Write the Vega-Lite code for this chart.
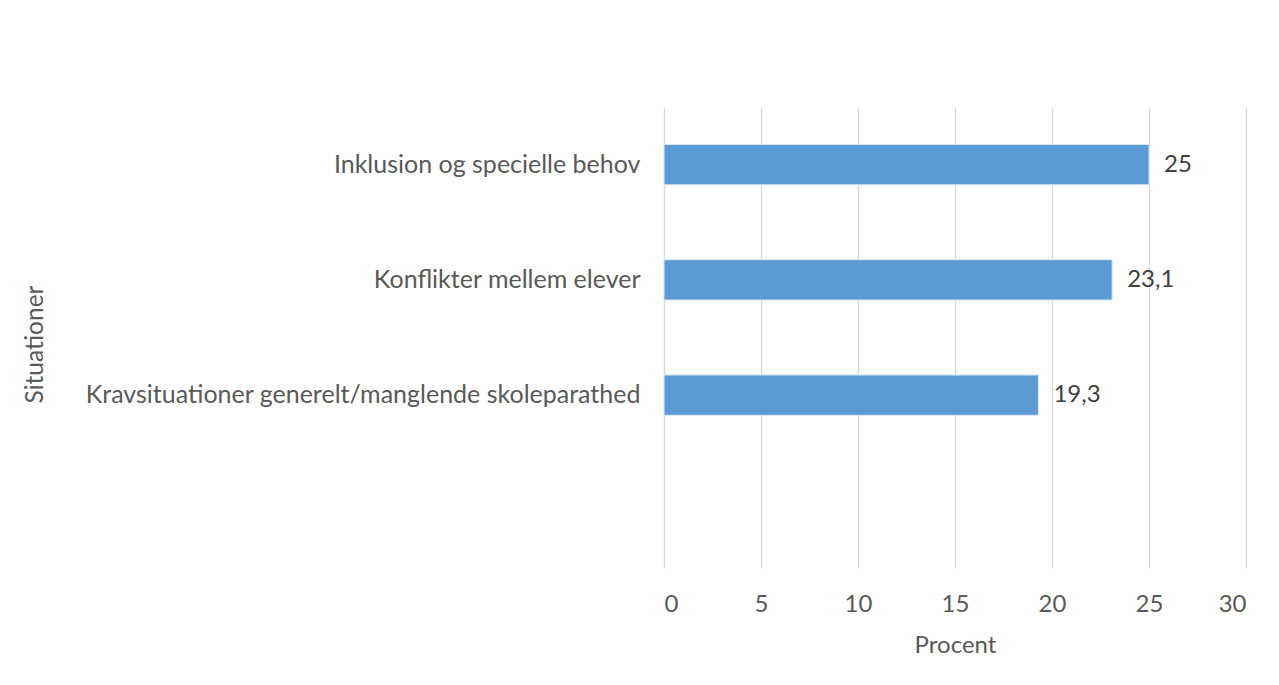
{
  "$schema": "https://vega.github.io/schema/vega-lite/v6.json",
  "width": 582,
  "height": 461,
  "autosize": {"type": "none"},
  "padding": {"left": 664, "top": 107, "right": 33, "bottom": 117},
  "background": "white",
  "config": {"view": {"stroke": null}, "font": "Lato"},
  "data": {
    "values": [
      {"situation": "Inklusion og specielle behov", "procent": 25, "label": "25"},
      {"situation": "Konflikter mellem elever", "procent": 23.1, "label": "23,1"},
      {"situation": "Kravsituationer generelt/manglende skoleparathed", "procent": 19.3, "label": "19,3"}
    ]
  },
  "encoding": {
    "y": {
      "field": "situation",
      "type": "nominal",
      "sort": null,
      "scale": {
        "domain": ["Inklusion og specielle behov", "Konflikter mellem elever", "Kravsituationer generelt/manglende skoleparathed", " "],
        "paddingInner": 0.65,
        "paddingOuter": 0.325
      },
      "axis": {
        "title": "Situationer",
        "titleFont": "Lato",
        "titleFontSize": 24.5,
        "titleFontWeight": "normal",
        "titleColor": "#595959",
        "titleX": -629,
        "titleY": 237,
        "titleAngle": -90,
        "titleBaseline": "middle",
        "titleAlign": "center",
        "labelFont": "Lato",
        "labelFontSize": 25,
        "labelColor": "#595959",
        "labelPadding": 24,
        "labelLimit": 700,
        "domain": false,
        "ticks": false,
        "grid": false
      }
    }
  },
  "layer": [
    {
      "mark": {"type": "bar", "color": "#5B9BD5", "stroke": "#DCE8F5", "strokeWidth": 1},
      "encoding": {
        "x": {
          "field": "procent",
          "type": "quantitative",
          "scale": {"domain": [0, 30], "nice": false},
          "axis": {
            "values": [0, 5, 10, 15, 20, 25, 30],
            "title": "Procent",
            "titleFont": "Lato",
            "titleFontSize": 24,
            "titleFontWeight": "normal",
            "titleColor": "#595959",
            "titlePadding": 17,
            "labelFont": "Lato",
            "labelFontSize": 24,
            "labelColor": "#595959",
            "labelPadding": 24,
            "domain": false,
            "ticks": false,
            "grid": true,
            "gridColor": "#D9D9D9",
            "gridWidth": 1.3
          }
        }
      }
    },
    {
      "mark": {"type": "text", "align": "left", "baseline": "middle", "dx": 15, "font": "Lato", "fontSize": 24, "color": "#404040"},
      "encoding": {
        "x": {"field": "procent", "type": "quantitative"},
        "text": {"field": "label", "type": "nominal"}
      }
    }
  ]
}
